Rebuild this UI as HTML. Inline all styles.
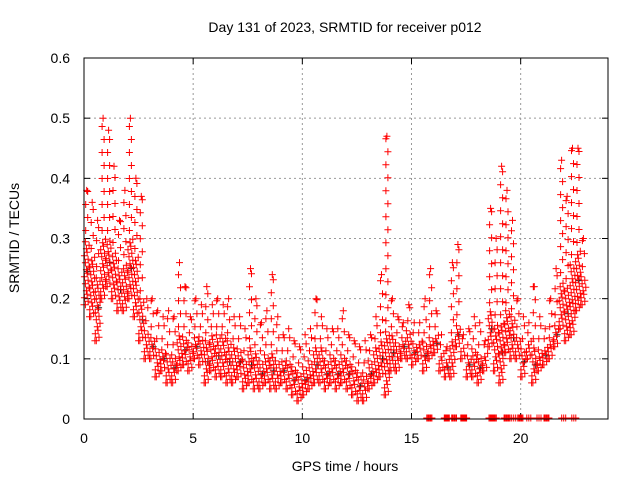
<!DOCTYPE html>
<html><head><meta charset="utf-8"><style>
body{margin:0;background:#fff}
svg{display:block;font-family:"Liberation Sans",sans-serif}
</style></head><body>
<svg id="chart" width="640" height="480">
<rect width="640" height="480" fill="#fff"/>
<text x="345" y="32" font-size="14" text-anchor="middle">Day 131 of 2023, SRMTID for receiver p012</text>
<text transform="translate(19,238) rotate(-90)" font-size="14" text-anchor="middle">SRMTID / TECUs</text>
<text x="345" y="471" font-size="14" text-anchor="middle">GPS time / hours</text>
<g id="grid"></g>
<g id="ticks"></g>
<path id="blackpts" fill="none" stroke="#222" stroke-width="1"/>
<path id="redpts" fill="none" stroke="#f00" stroke-width="1"/>
<path id="zeropts" fill="none" stroke="#f00" stroke-width="1"/>
<rect x="84" y="58" width="524" height="361" fill="none" stroke="#000" stroke-width="1"/>
</svg>
<script>
const xTicks=[0,5,10,15,20];
const yTicks=[0,0.1,0.2,0.3,0.4,0.5,0.6];
const yTickLabels=["0","0.1","0.2","0.3","0.4","0.5","0.6"];
const binStart=0, binWidth=0.25;
const lowVals=[0.19,0.17,0.13,0.2,0.22,0.2,0.18,0.18,0.2,0.17,0.13,0.1,0.1,0.07,0.08,0.06,0.06,0.08,0.09,0.08,0.1,0.09,0.06,0.08,0.07,0.07,0.06,0.06,0.07,0.05,0.06,0.05,0.05,0.06,0.05,0.05,0.06,0.05,0.04,0.03,0.04,0.05,0.06,0.06,0.05,0.06,0.05,0.06,0.05,0.04,0.03,0.03,0.05,0.06,0.07,0.04,0.08,0.08,0.1,0.1,0.09,0.1,0.08,0.1,0.11,0.08,0.07,0.07,0.12,0.1,0.07,0.07,0.06,0.08,0.12,0.08,0.06,0.11,0.1,0.1,0.07,0.1,0.06,0.08,0.09,0.1,0.12,0.15,0.13,0.14,0.18,0.19];
const coreVals=[0.3,0.27,0.24,0.3,0.3,0.28,0.25,0.26,0.3,0.27,0.2,0.15,0.14,0.12,0.12,0.11,0.11,0.14,0.14,0.13,0.14,0.14,0.13,0.14,0.14,0.14,0.13,0.12,0.12,0.1,0.12,0.11,0.1,0.11,0.11,0.1,0.1,0.1,0.09,0.08,0.09,0.1,0.12,0.12,0.1,0.11,0.1,0.11,0.1,0.09,0.08,0.08,0.1,0.12,0.13,0.15,0.14,0.13,0.14,0.15,0.13,0.13,0.13,0.14,0.14,0.11,0.1,0.13,0.16,0.12,0.11,0.12,0.11,0.11,0.18,0.16,0.16,0.18,0.17,0.14,0.12,0.13,0.12,0.12,0.12,0.14,0.16,0.23,0.22,0.26,0.28,0.24];
const highVals=[0.38,0.36,0.33,0.5,0.48,0.42,0.33,0.38,0.5,0.4,0.37,0.2,0.2,0.18,0.17,0.18,0.17,0.26,0.22,0.17,0.2,0.19,0.22,0.19,0.2,0.19,0.2,0.17,0.17,0.15,0.25,0.2,0.16,0.18,0.24,0.17,0.14,0.15,0.13,0.12,0.14,0.15,0.2,0.17,0.15,0.15,0.15,0.18,0.14,0.13,0.12,0.13,0.14,0.17,0.24,0.47,0.2,0.17,0.16,0.19,0.16,0.16,0.2,0.25,0.18,0.14,0.12,0.26,0.29,0.14,0.15,0.17,0.16,0.13,0.35,0.3,0.42,0.38,0.33,0.2,0.17,0.16,0.22,0.17,0.15,0.2,0.25,0.43,0.37,0.45,0.45,0.3];
const zeroTimes=[15.7,15.75,16.5,16.55,16.84,16.88,17.26,17.3,17.34,18.55,18.6,18.65,18.7,19.24,19.28,19.33,19.59,19.87,19.92,20.28,20.75,21.07,21.11,21.88,22.34];
const X0=84,X1=608,Y0=419,Y1=58,XMAX=24,YMAX=0.6;
const xs=v=>X0+(v/XMAX)*(X1-X0);
const ys=v=>Y0-(v/YMAX)*(Y0-Y1);
const NS="http://www.w3.org/2000/svg";
const grid=document.getElementById('grid'),ticks=document.getElementById('ticks');
function ln(x1,y1,x2,y2,dash,parent,name){const l=document.createElementNS(NS,'line');l.setAttribute('x1',x1);l.setAttribute('y1',y1);l.setAttribute('x2',x2);l.setAttribute('y2',y2);l.setAttribute('stroke',dash?'#999':'#000');l.setAttribute('stroke-width',1);if(dash)l.setAttribute('stroke-dasharray','2,3');


parent.appendChild(l);}
function tx(x,y,s,anchor,name){const t=document.createElementNS(NS,'text');t.setAttribute('x',x);t.setAttribute('y',y);t.setAttribute('font-size','14');t.setAttribute('text-anchor',anchor);t.textContent=s;


ticks.appendChild(t);}
xTicks.forEach(v=>{const x=xs(v);if(v>0)ln(x,Y1,x,Y0,true,grid,'x-gridline');ln(x,Y0,x,Y0-6,false,grid,'x-tick');ln(x,Y1,x,Y1+6,false,grid,'x-tick');tx(x,Y0+24,String(v),'middle','x-tick-label');});
yTicks.forEach((v,i)=>{const y=ys(v);if(v>0&&v<YMAX)ln(X0,y,X1,y,true,grid,'y-gridline');ln(X0,y,X0+6,y,false,grid,'y-tick');ln(X1,y,X1-6,y,false,grid,'y-tick');tx(X0-14,y+5,yTickLabels[i],'end','y-tick-label');});
function cross(x,y){return `M${(x-3.5).toFixed(1)} ${y.toFixed(1)}h7M${x.toFixed(1)} ${(y-3.5).toFixed(1)}v7`;}
let red='',blk='';
lowVals.forEach((lo,i)=>{const hi=highVals[i],core=coreVals[i];const t0=binStart+i*binWidth;
 const ylo=ys(lo),yc=ys(core),yhi=ys(hi);
 for(let c=0;c<2;c++){const x=xs(t0+binWidth*(c*2+1)/4);
  for(let y=ylo-c*3.5;y>=yc;y-=7){red+=cross(x+(((y|0)%3)-1),y);}
 }
 const xm=xs(t0+binWidth/2);
 for(let y=yc-8;y>yhi;y-=13){red+=cross(xm+(((y|0)%2)*2-1),y);}
 red+=cross(xm,yhi);red+=cross(xs(t0),ylo);
 if(i%2===0)blk+=cross(xm+1,ys((lo+core)/2));
});
document.getElementById('redpts').setAttribute('d',red);
document.getElementById('blackpts').setAttribute('d',blk);
let z='';zeroTimes.forEach(t=>{const x=xs(t);z+=cross(x,Y0-1)+cross(x+2,Y0-1)+cross(x+4,Y0-1);});
document.getElementById('zeropts').setAttribute('d',z);
</script>
</body></html>
